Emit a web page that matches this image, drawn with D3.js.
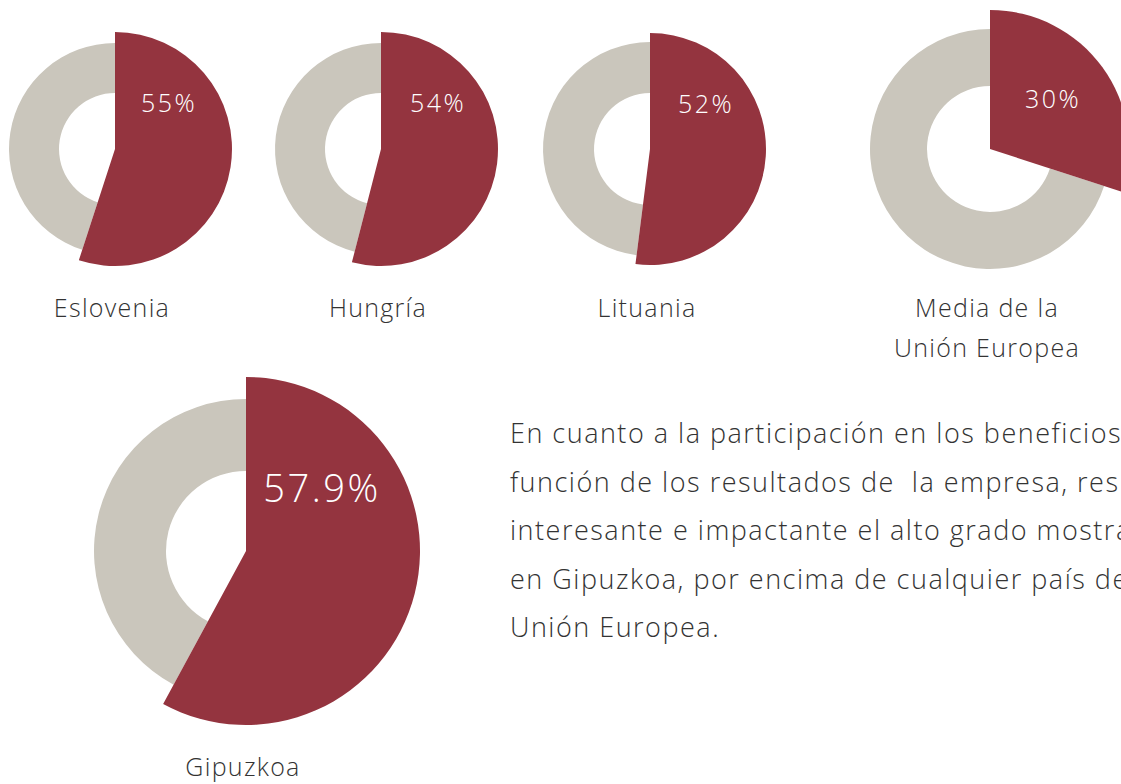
<!DOCTYPE html>
<html>
<head>
<meta charset="utf-8">
<script src="https://cdn.jsdelivr.net/npm/d3@7"></script>
<style>
  body { margin: 0; background: #fff; overflow: hidden; }
  text { font-family: "Open Sans", Roboto, sans-serif; font-weight: 300; white-space: pre; }
</style>
</head>
<body>
<div id="chart"></div>
<script>
// Chart data
var names = ["Eslovenia", "Hungría", "Lituania", "Media de la|Unión Europea", "Gipuzkoa"];
var values = [55, 54, 52, 30, 57.9];
var valueLabels = ["55%", "54%", "52%", "30%", "57.9%"];

var paragraph = [
  "En cuanto a la participación en los beneficios en",
  "función de los resultados de  la empresa, resulta",
  "interesante e impactante el alto grado mostrado",
  "en Gipuzkoa, por encima de cualquier país de la",
  "Unión Europea."
];

// Layout for each donut: centre, red radius, ring radii, label offset
var layout = [
  {cx: 115, cy: 149, rRed: 117, rOut: 106, rIn: 56, lx: 54, ly: 9, fs: 25, nameY: 317},
  {cx: 381, cy: 149, rRed: 117, rOut: 106, rIn: 56, lx: 57, ly: 9, fs: 25, nameY: 317},
  {cx: 650, cy: 149, rRed: 116, rOut: 107, rIn: 56, lx: 56, ly: 9, fs: 25, nameY: 317},
  {cx: 990, cy: 149, rRed: 139, rOut: 120, rIn: 63, lx: 63, ly: 13, fs: 25, nameY: 317},
  {cx: 246, cy: 551, rRed: 174, rOut: 152, rIn: 80, lx: 76, ly: 19, fs: 38, nameY: 776}
];

var svgWidth = 1121;
var svgHeight = 784;

var svg = d3.select("#chart")
  .append("svg")
  .attr("width", svgWidth)
  .attr("height", svgHeight);

var red = "#94343f";
var grey = "#cac6bc";

var pie = d3.pie().sort(null).value(d => d);

values.forEach(function(v, i) {
  var L = layout[i];
  var g = svg.append("g")
    .attr("transform", `translate(${L.cx}, ${L.cy})`);

  var slices = pie([v, 100 - v]);

  // grey ring for the remaining share
  g.append("path")
    .attr("d", d3.arc().innerRadius(L.rIn).outerRadius(L.rOut)(slices[1]))
    .attr("fill", grey);

  // red full wedge for the value
  g.append("path")
    .attr("d", d3.arc().innerRadius(0).outerRadius(L.rRed)(slices[0]))
    .attr("fill", red);

  g.append("text")
    .attr("x", L.lx)
    .attr("y", -L.rRed * 0.39 + L.ly)
    .attr("text-anchor", "middle")
    .attr("fill", "#fff")
    .attr("font-size", L.fs)
    .attr("letter-spacing", 2.5)
    .text(valueLabels[i]);

  // category name (may wrap on "|")
  var parts = names[i].split("|");
  svg.append("text")
    .attr("x", L.cx - 3)
    .attr("y", L.nameY)
    .attr("text-anchor", "middle")
    .attr("fill", "#333")
    .attr("font-size", 25)
    .attr("letter-spacing", 1.3)
    .selectAll("tspan")
    .data(parts)
    .enter()
    .append("tspan")
    .attr("x", L.cx - 3)
    .attr("dy", (d, j) => j === 0 ? 0 : 40)
    .text(d => d);
});

// Paragraph text
svg.append("g")
  .selectAll("text")
  .data(paragraph)
  .enter()
  .append("text")
  .attr("x", 510)
  .attr("y", (d, i) => 443 + i * 48.5)
  .attr("fill", "#333")
  .attr("font-size", 27)
  .attr("letter-spacing", 1.5)
  .text(d => d);
</script>
</body>
</html>
